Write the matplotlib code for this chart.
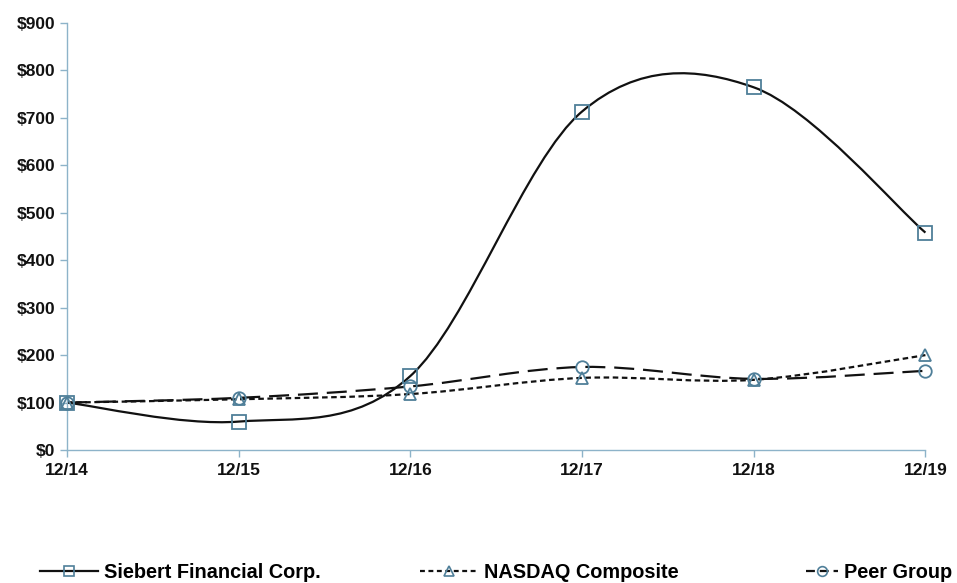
import numpy as np
import matplotlib
matplotlib.use("Agg")
from matplotlib import pyplot as plt
from matplotlib.path import Path
from matplotlib.patches import PathPatch
from matplotlib.lines import Line2D

years = ["12/14", "12/15", "12/16", "12/17", "12/18", "12/19"]
siebert = [100, 60, 156, 713, 764, 458]
nasdaq = [100, 107, 118, 152, 148, 200]
peer = [100, 110, 134, 175, 150, 167]
yticks = [0, 100, 200, 300, 400, 500, 600, 700, 800, 900]

plt.rcParams["font.family"] = ["Liberation Sans", "DejaVu Sans"]
plt.rcParams["font.weight"] = "bold"

axis_col = "#8db3c9"
marker_col = "#4f7f99"


def smooth_path(xs, ys):
    """Excel-style smoothed line as cubic bezier segments."""
    pts = np.column_stack([xs, ys]).astype(float)
    verts = [pts[0]]
    codes = [Path.MOVETO]
    n = len(pts)
    for i in range(n - 1):
        p0 = pts[i - 1] if i > 0 else pts[i]
        p1 = pts[i]
        p2 = pts[i + 1]
        p3 = pts[i + 2] if i + 2 < n else pts[i + 1]
        c1 = p1 + (p2 - p0) / 6.0
        c2 = p2 - (p3 - p1) / 6.0
        verts += [c1, c2, p2]
        codes += [Path.CURVE4] * 3
    return Path(verts, codes)


fig = plt.figure(figsize=(9.57, 5.83), dpi=100)
ax = fig.add_axes([0.070, 0.228, 0.897, 0.733])

x = np.arange(len(years))
# values, label, line style, legend line style, marker, size, handle length, legend x (px)
series = [
    (siebert, "Siebert Financial Corp.", "-", "-", "s", 10, 2.9, 40),
    (nasdaq, "NASDAQ Composite", (0, (2.5, 1.6)), (0, (2.2, 1.6)), "^", 9, 2.9, 420),
    (peer, "Peer Group", (0, (9, 4)), (0, (4, 2.2)), "o", 9, 1.6, 806),
]

for vals, label, ls, lls, mk, ms, hl, lx in series:
    patch = PathPatch(smooth_path(x, vals), facecolor="none", edgecolor="#111111",
                      lw=1.6, linestyle=ls, zorder=2, clip_on=False)
    ax.add_patch(patch)
    ax.plot(x, vals, linestyle="none", marker=mk, ms=ms, mfc="none",
            mec=marker_col, mew=1.3, zorder=3, clip_on=False)
    h = Line2D([], [], color="#111111", lw=1.6, linestyle=lls, marker=mk,
               ms=7, mfc="none", mec=marker_col, mew=1.2, label=label)
    fig.legend(handles=[h], loc="center left", bbox_to_anchor=(lx / 957.0, 1 - 572 / 583.0),
               frameon=False, fontsize=14.3, handlelength=hl, handletextpad=0.3,
               borderpad=0, borderaxespad=0)

ax.set_xlim(0, len(years) - 1)
ax.set_ylim(0, 900)
ax.set_xticks(x)
ax.set_xticklabels(years)
ax.set_yticks(yticks)
ax.set_yticklabels(["$%d" % v for v in yticks])

for side in ["top", "right"]:
    ax.spines[side].set_visible(False)
for side in ["left", "bottom"]:
    ax.spines[side].set_color(axis_col)
    ax.spines[side].set_linewidth(1.0)
ax.tick_params(axis="both", colors=axis_col, length=5, width=1.0,
               labelcolor="#111111", labelsize=12.5)
ax.tick_params(axis="x", pad=4)

fig.savefig("out.png", dpi=100)
